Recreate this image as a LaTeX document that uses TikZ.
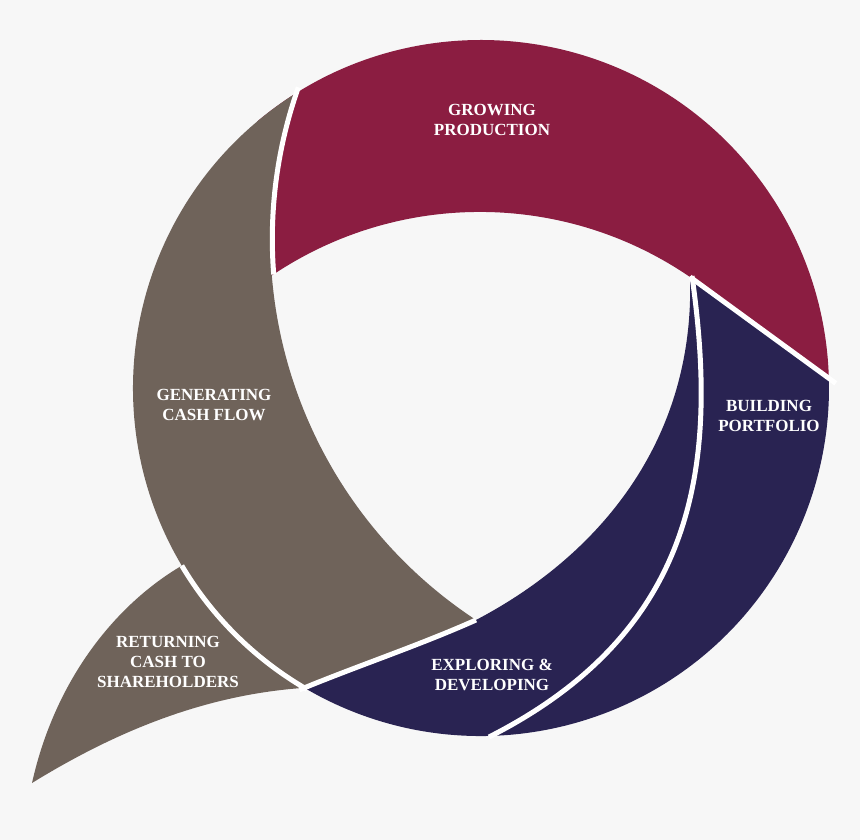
\documentclass[tikz,border=0pt]{standalone}
\usepackage{fontspec}
\setmainfont{Liberation Serif}
\usetikzlibrary{calc}
\definecolor{bgGray}{HTML}{F7F7F7}
\definecolor{ringMaroon}{HTML}{8B1D41}
\definecolor{ringNavy}{HTML}{292352}
\definecolor{ringTaupe}{HTML}{6F635A}

\begin{document}
\begin{tikzpicture}[x=1pt, y=-1pt, line join=round,
    gap/.style={draw=white, line width=5pt},
    lbl/.style={text=white, font=\fontsize{17}{20}\selectfont\bfseries,
                align=center, inner sep=0pt}]
  % canvas in pixel units, y grows downwards
  \fill[bgGray] (0,0) rectangle (860,840);
  \useasboundingbox (0,0) rectangle (860,840);

  % outer circle centre and key points
  \coordinate (ctr) at (481,388);
  \coordinate (tc)  at (726.3,238.9);             % centre of the taupe inner edge
  \coordinate (tip) at (476,620);                 % taupe tip
  \coordinate (top) at (690,277);                 % maroon / navy junction
  \coordinate (rim) at ($(ctr)+(-1.6:348)$);
  \coordinate (low) at ($(ctr)+(120.5:348)$);
  \coordinate (tailtop) at ($(ctr)+(149.3:348)$);

  % tail (returning cash)
  \fill[ringTaupe] (tailtop) .. controls (115,605) and (55,680) .. (32,783)
    .. controls (110,735) and (200,695) .. (low) -- cycle;

  % navy band
  \fill[ringNavy] (low) arc[start angle=120.5, end angle=-1.6, radius=348] -- (top)
    .. controls (695,440) and (600,555) .. (tip)
    .. controls (420,645) and (360,665) .. (low) -- cycle;

  % maroon band
  \fill[ringMaroon] ($(ctr)+(230:348)$) arc[start angle=230, end angle=358.4, radius=348]
    -- (top) arc[start angle=-55.6, end angle=-127, radius=372] -- cycle;

  % taupe band
  \fill[ringTaupe] ($(ctr)+(237.3:348)$) arc[start angle=237.3, end angle=120.5, radius=348]
    .. controls (360,665) and (420,645) .. (tip)
    arc[start angle=123.3, end angle=198.4, radius=456] -- cycle;

  % white gaps
  \draw[gap] ($(tc)+(199.5:454)$) arc[start angle=199.5, end angle=175.5, radius=454];
  \draw[gap] (top) -- ($(top)!1.05!(rim)$);
  \draw[gap] (692,276) .. controls (718,460) and (700,630) .. (489,737);
  \draw[gap] (tip) .. controls (420,645) and (360,665) .. (low) -- ++(-5,2);
  \draw[gap] (tailtop) arc[start angle=149.3, end angle=120, radius=348];

  % labels
  \node[lbl] (grow) at (492,120) {GROWING\\PRODUCTION};
  \node[lbl] (cash) at (214,405) {GENERATING\\CASH FLOW};
  \node[lbl] (build) at (769,416) {BUILDING\\PORTFOLIO};
  \node[lbl] (explore) at (492,675) {EXPLORING \&\\DEVELOPING};
  \node[lbl] (return) at (168,662) {RETURNING\\CASH TO\\SHAREHOLDERS};
\end{tikzpicture}
\end{document}
